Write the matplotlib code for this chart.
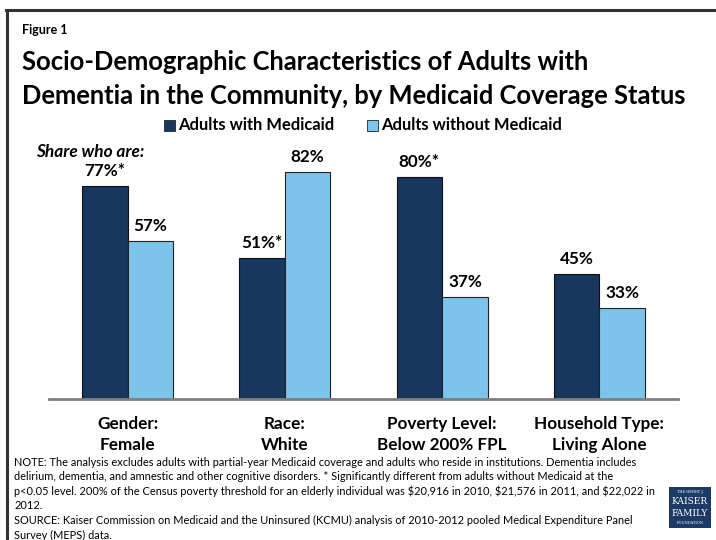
import matplotlib
matplotlib.use("Agg")
import matplotlib.pyplot as plt
import numpy as np
from matplotlib.patches import Rectangle
from matplotlib.lines import Line2D

plt.rcParams['font.family'] = ['Lato', 'DejaVu Sans']

categories = ["Gender:\nFemale", "Race:\nWhite", "Poverty Level:\nBelow 200% FPL", "Household Type:\nLiving Alone"]
with_medicaid = [77, 51, 80, 45]
without_medicaid = [57, 82, 37, 33]
with_labels = ["77%*", "51%*", "80%*", "45%"]
without_labels = ["57%", "82%", "37%", "33%"]
series_names = ["Adults with Medicaid", "Adults without Medicaid"]

DARK = "#17375E"
LIGHT = "#7DC4EC"

W, H = 716, 540
fig = plt.figure(figsize=(W / 100, H / 100), dpi=100)

def fx(px):
    return px / W

def fy(py):
    return 1 - py / H

# frame around the slide (left and top edges visible)
fig.add_artist(Line2D([fx(7), fx(7)], [fy(10), 0], color="#333333", lw=2.2, transform=fig.transFigure))
fig.add_artist(Line2D([fx(6), 1], [fy(10), fy(10)], color="#333333", lw=2.2, transform=fig.transFigure))

fig.text(fx(22), fy(30), "Figure 1", fontsize=9, fontweight="bold", va="center", ha="left")
fig.text(fx(22), fy(62), "Socio-Demographic Characteristics of Adults with", fontsize=18.4,
         fontweight="bold", va="center", ha="left")
fig.text(fx(22), fy(96), "Dementia in the Community, by Medicaid Coverage Status", fontsize=18.4,
         fontweight="bold", va="center", ha="left")

# chart area
ax = fig.add_axes([fx(49), fy(399), fx(678) - fx(49), (399 - 122) / H])
x = np.arange(len(categories))
bw = 0.29
ax.bar(x - bw / 2, with_medicaid, bw, color=DARK, edgecolor="#111111", linewidth=0.8, zorder=2)
ax.bar(x + bw / 2, without_medicaid, bw, color=LIGHT, edgecolor="#222222", linewidth=0.8, zorder=2)
ax.set_xlim(-0.5, len(categories) - 0.5)
ax.set_ylim(0, 100)
for s in ["top", "right", "left"]:
    ax.spines[s].set_visible(False)
ax.spines["bottom"].set_color("#808080")
ax.spines["bottom"].set_linewidth(2)
ax.spines["bottom"].set_zorder(3)
ax.set_yticks([])
ax.set_xticks(x)
ax.set_xticklabels(categories, fontsize=12.3, fontweight="bold", linespacing=1.43)
ax.tick_params(axis="x", length=0, pad=12)

for xi, v, lab in zip(x, with_medicaid, with_labels):
    ax.annotate(lab, (xi - bw / 2, v), xytext=(0, 5), textcoords="offset points",
                ha="center", va="bottom", fontsize=12.3, fontweight="bold")
for xi, v, lab in zip(x, without_medicaid, without_labels):
    ax.annotate(lab, (xi + bw / 2, v), xytext=(0, 5), textcoords="offset points",
                ha="center", va="bottom", fontsize=12.3, fontweight="bold")

# legend
fig.add_artist(Rectangle((fx(164), fy(131)), fx(11), 11 / H, facecolor=DARK, edgecolor="#222222",
                         lw=0.6, transform=fig.transFigure))
fig.text(fx(178), fy(125), series_names[0], fontsize=11.9, fontweight="bold", va="center", ha="left")
fig.add_artist(Rectangle((fx(367), fy(131)), fx(11), 11 / H, facecolor=LIGHT, edgecolor="#222222",
                         lw=0.6, transform=fig.transFigure))
fig.text(fx(381), fy(125), series_names[1], fontsize=11.9, fontweight="bold", va="center", ha="left")

fig.text(fx(36), fy(152), "Share who are:", fontsize=12.4, fontweight="bold", fontstyle="italic",
         va="center", ha="left")

notes = [
    "NOTE: The analysis excludes adults with partial-year Medicaid coverage and adults who reside in institutions. Dementia includes",
    "delirium, dementia, and amnestic and other cognitive disorders. * Significantly different from adults without Medicaid at the",
    "p<0.05 level. 200% of the Census poverty threshold for an elderly individual was $20,916 in 2010, $21,576 in 2011, and $22,022 in",
    "2012.",
    "SOURCE: Kaiser Commission on Medicaid and the Uninsured (KCMU) analysis of 2010-2012 pooled Medical Expenditure Panel",
    "Survey (MEPS) data.",
]
for i, line in enumerate(notes):
    fig.text(fx(14), fy(462 + i * 14.6), line, fontsize=7.9, va="center", ha="left")

# foundation logo
fig.add_artist(Rectangle((fx(669), fy(528)), fx(42), 41 / H, facecolor="#1B3A66", edgecolor="none",
                         transform=fig.transFigure))
logo_lines = [("THE HENRY J.", 2.6, 492), ("KAISER", 6.5, 502), ("FAMILY", 6.5, 513), ("FOUNDATION", 2.6, 523)]
for t, fs, py in logo_lines:
    fig.text(fx(690), fy(py), t, fontsize=fs, color="white", family="DejaVu Serif",
             ha="center", va="center")

fig.savefig("out.png", dpi=100)
